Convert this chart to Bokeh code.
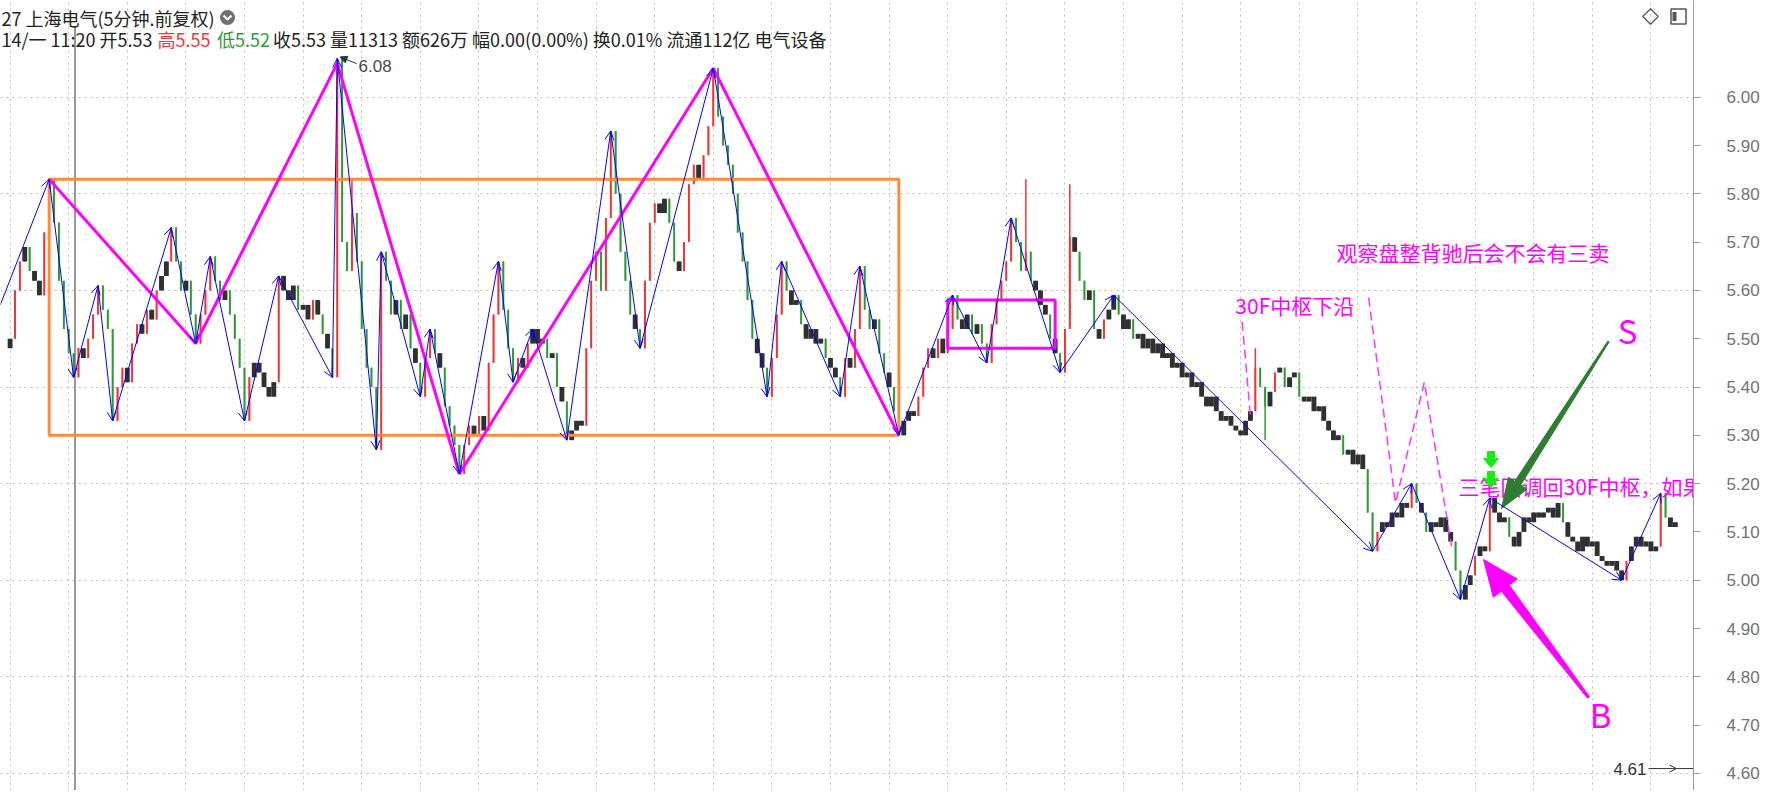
import math
from bokeh.plotting import figure
from bokeh.models import (ColumnDataSource, Arrow, OpenHead, NormalHead, FixedTicker,
                          Grid, Range1d, NumeralTickFormatter)
from bokeh.core.properties import value
from bokeh.embed import file_html
from bokeh.resources import INLINE

# ---------------- data (5-minute bars) ----------------
open0 = 5.48
closes = [
    5.50, 5.60, 5.66, 5.69, 5.64, 5.62, 5.59, 5.72, 5.83,           # 0-8
    5.74, 5.62, 5.52, 5.47, 5.42,                                   # 9-13
    5.48, 5.46, 5.50, 5.55, 5.61,                                   # 14-18
    5.56, 5.52, 5.33,                                               # 19-21
    5.40, 5.44, 5.41, 5.49, 5.53, 5.51, 5.56, 5.54, 5.60, 5.63, 5.66, 5.73,  # 22-33
    5.66, 5.60, 5.62, 5.55, 5.49,                                   # 34-38
    5.55, 5.60, 5.67,                                               # 39-41
    5.62, 5.58, 5.60, 5.55, 5.50, 5.44, 5.33,                       # 42-48
    5.42, 5.45, 5.43, 5.40, 5.38, 5.41, 5.63,                       # 49-55
    5.60, 5.58, 5.61, 5.56, 5.57, 5.54, 5.58, 5.55, 5.51, 5.48, 5.42,  # 56-66
    6.08,                                                           # 67
    5.70, 5.64, 5.76, 5.66, 5.52, 5.44, 5.40, 5.27,                 # 68-75
    5.68,                                                           # 76
    5.62, 5.55, 5.58, 5.52, 5.55, 5.48, 5.45, 5.38,                 # 77-84
    5.46, 5.52,                                                     # 85-86
    5.47, 5.44, 5.36, 5.32, 5.28, 5.22,                             # 87-92
    5.28, 5.32, 5.30, 5.34, 5.31, 5.45, 5.55, 5.66,                 # 93-100
    5.56, 5.48, 5.41,                                               # 101-103
    5.46, 5.44, 5.49, 5.52,                                         # 104-107
    5.49, 5.50, 5.46, 5.47, 5.40, 5.37, 5.29,                       # 108-114
    5.31, 5.33, 5.32, 5.48, 5.62, 5.68, 5.60, 5.75, 5.93,           # 115-123
    5.80, 5.68, 5.62, 5.55, 5.52, 5.48,                             # 124-129
    5.62, 5.74, 5.78, 5.76, 5.79, 5.74, 5.66, 5.64, 5.70, 5.82, 5.86, 5.83, 5.88, 5.94, 6.06,  # 130-144
    5.96, 5.90, 5.86, 5.80, 5.72, 5.66, 5.58, 5.50, 5.47, 5.44, 5.38,  # 145-155
    5.46, 5.55, 5.66,                                               # 156-158
    5.60, 5.57, 5.58, 5.53, 5.50, 5.52, 5.49, 5.50, 5.46, 5.44, 5.42, 5.38,  # 159-170
    5.46, 5.44, 5.52, 5.65,                                         # 171-174
    5.56, 5.52, 5.54, 5.47, 5.43, 5.40, 5.35, 5.30,                 # 175-182
    5.33, 5.35, 5.34, 5.38, 5.44, 5.48, 5.46, 5.50, 5.47, 5.52, 5.59,  # 183-193
    5.54, 5.52, 5.55, 5.51, 5.53, 5.49, 5.45,                       # 194-200
    5.53, 5.58, 5.62, 5.66, 5.75,                                   # 201-205
    5.70, 5.64, 5.68, 5.62, 5.60, 5.57, 5.55, 5.50, 5.47, 5.43,     # 206-215
    5.52, 5.71, 5.68, 5.62, 5.58, 5.60, 5.52, 5.50, 5.54, 5.56, 5.59,  # 216-226
    5.55, 5.52, 5.54, 5.50, 5.51, 5.48, 5.50, 5.47, 5.49,           # 227-235
    5.46, 5.47, 5.44, 5.45, 5.42, 5.43, 5.40, 5.41, 5.38,           # 236-244
    5.36, 5.38, 5.35, 5.33, 5.34, 5.32, 5.31, 5.30, 5.33,           # 245-253
    5.35, 5.44, 5.40, 5.36, 5.39, 5.43, 5.44, 5.40, 5.42,           # 254-262
    5.43, 5.38, 5.37, 5.38, 5.35, 5.36, 5.33, 5.31, 5.29,           # 263-271
    5.30, 5.26, 5.27, 5.24, 5.26, 5.23, 5.14, 5.06,                 # 272-279
    5.10, 5.12, 5.11, 5.14, 5.13, 5.16, 5.15, 5.20,                 # 280-287
    5.16, 5.14, 5.10, 5.12, 5.11, 5.13, 5.10, 5.08, 5.02, 4.96,     # 288-297
    4.99, 5.01, 5.05, 5.07, 5.06, 5.17,                             # 298-303
    5.14, 5.12, 5.13, 5.09, 5.07, 5.10, 5.13, 5.12, 5.14,           # 304-312
    5.13, 5.14, 5.15, 5.13, 5.16, 5.12, 5.09, 5.08, 5.06,           # 313-321
    5.09, 5.07, 5.08, 5.05, 5.04, 5.03, 5.04, 5.02, 5.00,           # 322-330
    5.04, 5.07, 5.09, 5.07, 5.08, 5.06, 5.07, 5.18,                 # 331-338
    5.13, 5.11, 5.12,                                               # 339-341
]
wick_hi_idx = [70, 208, 217, 255]
wick_hi_val = [5.83, 5.83, 5.82, 5.48]
wick_lo_idx = [257]
wick_lo_val = [5.29]

# 笔 (blue pens) vertices: bar index, price
bi_idx = [-2, 8, 13, 18, 21, 33, 38, 41, 48, 55, 66, 67, 75, 76, 84, 86, 92, 100, 103, 107,
          114, 123, 129, 144, 155, 158, 170, 174, 182, 193, 200, 205, 215, 226, 279, 287,
          297, 303, 330, 338]
bi_price = [5.57, 5.83, 5.42, 5.61, 5.33, 5.73, 5.49, 5.67, 5.33, 5.63, 5.42, 6.08, 5.27, 5.68,
            5.38, 5.52, 5.22, 5.66, 5.41, 5.52, 5.29, 5.93, 5.48, 6.06, 5.38, 5.66, 5.38, 5.65,
            5.30, 5.59, 5.45, 5.75, 5.43, 5.59, 5.06, 5.20, 4.96, 5.17, 5.00, 5.18]

# 线段 (magenta segments)
seg_idx = [8, 38, 67, 92, 144, 182]
seg_price = [5.83, 5.49, 6.07, 5.22, 6.06, 5.30]

# 中枢 boxes
zs_left = [8]
zs_right = [182]
zs_low = [5.30]
zs_high = [5.83]
zs2_left = [192]
zs2_right = [214]
zs2_low = [5.48]
zs2_high = [5.58]

# hand-drawn dashed projections
dash_a_idx = [252.3, 254.0]
dash_a_price = [5.535, 5.34]
dash_b_idx = [278.2, 283.7, 289.6, 295.2]
dash_b_price = [5.585, 5.16, 5.41, 5.07]

# notes
note_idx = [250.9, 271.6, 296.6]
note_price = [5.569, 5.68, 5.194]
note_text = ["30F中枢下沿", "观察盘整背驰后会不会有三卖", "三笔回调回30F中枢，如果"]
letter_idx = [331.2, 325.7]
letter_price = [5.517, 4.724]
letter_text = ["S", "B"]

y_ticks = [4.60, 4.70, 4.80, 4.90, 5.00, 5.10, 5.20, 5.30, 5.40, 5.50,
           5.60, 5.70, 5.80, 5.90, 6.00]
y_tick_labels = ["4.60", "4.70", "4.80", "4.90", "5.00", "5.10", "5.20", "5.30", "5.40",
                 "5.50", "5.60", "5.70", "5.80", "5.90", "6.00"]
grid_prices = [4.60, 4.80, 5.00, 5.20, 5.40, 5.60, 5.80, 6.00]
grid_bars = list(range(0, 342, 12))

peak_label = "6.08"
low_label = "4.61"
low_price = 4.61

header_1 = "27 上海电气(5分钟.前复权)"
header_2 = ["14/一 11:20 开5.53", "高5.55", "低5.52",
            "收5.53 量11313 额626万 幅0.00(0.00%) 换0.01% 流通112亿 电气设备"]

# ---------------- geometry (page pixels -> data) ----------------
DXP = 58.6 / 12.0
FRAME_W, FRAME_H = 1693, 790
X0 = -9.6 / DXP
X1 = X0 + FRAME_W / DXP
DYP = 483.0
Y1 = 6.0 + 96.7 / DYP
Y0 = Y1 - FRAME_H / DYP


def X(px):
    return X0 + px / DXP


def Y(py):
    return Y1 - py / DYP


p = figure(width=1762, height=790, x_range=Range1d(X0, X1), y_range=Range1d(Y0, Y1),
           x_axis_location=None, y_axis_location="right", toolbar_location=None,
           output_backend="svg", min_border_left=0, min_border_top=0, min_border_bottom=0,
           min_border_right=69, outline_line_color=None,
           background_fill_color="#ffffff", border_fill_color="#ffffff")
p.grid.visible = False
p.add_layout(Grid(dimension=1, ticker=FixedTicker(ticks=grid_prices),
                  grid_line_color="#bdbdbd", grid_line_dash="2 4", grid_line_width=1))
p.add_layout(Grid(dimension=0, ticker=FixedTicker(ticks=grid_bars),
                  grid_line_color="#bdbdbd", grid_line_dash="2 4", grid_line_width=1))

ax = p.yaxis[0]
ax.ticker = FixedTicker(ticks=y_ticks)
ax.formatter = NumeralTickFormatter(format="0.00")
ax.major_label_overrides = {t: l for t, l in zip(y_ticks, y_tick_labels)}
ax.axis_line_color = "#9a9a9a"
ax.major_tick_line_color = "#9a9a9a"
ax.major_tick_in = 0
ax.major_tick_out = 7
ax.minor_tick_line_color = None
ax.major_label_text_color = "#727272"
ax.major_label_text_font = "Liberation Sans"
ax.major_label_text_font_size = "17px"
ax.major_label_standoff = 26

# ---------------- candles ----------------
n = len(closes)
idx = list(range(n))
opens = [open0] + closes[:-1]
highs = [max(o, c) for o, c in zip(opens, closes)]
lows = [min(o, c) for o, c in zip(opens, closes)]
for i, v in zip(wick_hi_idx, wick_hi_val):
    highs[i] = max(highs[i], v)
for i, v in zip(wick_lo_idx, wick_lo_val):
    lows[i] = min(lows[i], v)

UP, DN, DK = "#ef3434", "#2f9a35", "#303030"
wick_col, body_col, body_w, tops, bots = [], [], [], [], []
for o, c in zip(opens, closes):
    d = c - o
    wick_col.append(UP if d > 1e-9 else (DN if d < -1e-9 else DK))
    if abs(d) <= 0.035:
        body_col.append(DK)
        body_w.append(1.0)
    else:
        body_col.append(UP if d > 0 else DN)
        body_w.append(0.38)
    t, b = max(o, c), min(o, c)
    if t - b < 0.006:
        t, b = t + 0.003, b - 0.003
    tops.append(t)
    bots.append(b)

csrc = ColumnDataSource(dict(x=idx, hi=highs, lo=lows, top=tops, bot=bots,
                             wc=wick_col, bc=body_col, bw=body_w))
p.segment(x0="x", y0="lo", x1="x", y1="hi", line_color="wc", line_width=1.5, source=csrc)
p.vbar(x="x", width="bw", top="top", bottom="bot", fill_color="bc", line_color=None,
       source=csrc)

# cursor line
p.segment(x0=[X(74.5)], y0=[Y(26)], x1=[X(74.5)], y1=[Y0], line_color="#333333", line_width=1)

# ---------------- zhongshu boxes & segments ----------------
p.quad(left=zs_left, right=zs_right, bottom=zs_low, top=zs_high, fill_color=None,
       line_color="#ff8a3d", line_width=3)
p.quad(left=zs2_left, right=zs2_right, bottom=zs2_low, top=zs2_high, fill_color=None,
       line_color="#ff00ff", line_width=3)
p.line(seg_idx, seg_price, line_color="#ff00ff", line_width=3)

p.line(dash_a_idx, dash_a_price, line_color="#ff33ff", line_width=1.5, line_dash="9 5")
p.line(dash_b_idx, dash_b_price, line_color="#ff33ff", line_width=1.5, line_dash="9 5")

# ---------------- notes ----------------
CJK = value("Noto Sans CJK SC")
p.text(x=note_idx, y=note_price, text=note_text, text_font=CJK, text_font_size="21px",
       text_color="#ff00ff", text_baseline="middle", text_align="left")
p.text(x=letter_idx, y=letter_price, text=letter_text, text_font=CJK, text_font_size="33px",
       text_color="#ff00ff", text_baseline="middle", text_align="center")


def arrow_poly(tx, ty, hx, hy, w0, w1, L, W):
    dx, dy = hx - tx, hy - ty
    d = math.hypot(dx, dy)
    ux, uy = dx / d, dy / d
    nx, ny = -uy, ux
    bx, by = hx - ux * L, hy - uy * L
    pts = [(tx + nx * w0 / 2, ty + ny * w0 / 2), (bx + nx * w1 / 2, by + ny * w1 / 2),
           (bx + nx * W / 2, by + ny * W / 2), (hx, hy),
           (bx - nx * W / 2, by - ny * W / 2), (bx - nx * w1 / 2, by - ny * w1 / 2),
           (tx - nx * w0 / 2, ty - ny * w0 / 2)]
    return [X(a) for a, _ in pts], [Y(b) for _, b in pts]


gx, gy = arrow_poly(1608, 341, 1501, 508, 1.5, 7, 30, 22)
p.patch(gx, gy, fill_color="#2e7d32", line_color="#2e7d32", line_width=1)
mx, my = arrow_poly(1588, 697, 1483, 559, 2.5, 10, 36, 30)
p.patch(mx, my, fill_color="#ff00ff", line_color="#ff00ff", line_width=1)

for y0 in (451, 471):
    pts = [(1487, y0), (1494, y0), (1494, y0 + 7), (1498, y0 + 7), (1490.5, y0 + 16),
           (1483, y0 + 7), (1487, y0 + 7)]
    p.patch([X(a) for a, _ in pts], [Y(b) for _, b in pts], fill_color="#11ee11",
            line_color="#11ee11", line_width=1)

# ---------------- blue pens ----------------
bsrc = ColumnDataSource(dict(x0=bi_idx[:-1], y0=bi_price[:-1], x1=bi_idx[1:], y1=bi_price[1:]))
p.add_layout(Arrow(end=OpenHead(size=9, line_color="#0000ff", line_width=1),
                   x_start="x0", y_start="y0", x_end="x1", y_end="y1", source=bsrc,
                   line_color="#0000ff", line_width=1))

# ---------------- price markers ----------------
p.add_layout(Arrow(end=NormalHead(size=7, fill_color="#333333", line_color="#333333"),
                   x_start=X(356), y_start=Y(63), x_end=X(339.5), y_end=Y(56.5),
                   line_color="#333333", line_width=1))
p.text(x=[X(358)], y=[Y(65)], text=[peak_label], text_font=value("Liberation Sans"),
       text_font_size="17px", text_color="#4a4a4a", text_baseline="middle", text_align="left")

p.text(x=[X(1646)], y=[low_price], text=[low_label], text_font=value("Liberation Sans"),
       text_font_size="17px", text_color="#333333", text_baseline="middle", text_align="right")
p.add_layout(Arrow(end=OpenHead(size=7, line_color="#333333", line_width=1),
                   x_start=X(1648), y_start=low_price, x_end=X(1676), y_end=low_price,
                   line_color="#333333", line_width=1))
p.segment(x0=[X(1676)], y0=[low_price], x1=[X(1693)], y1=[low_price],
          line_color="#333333", line_width=1)

# ---------------- header ----------------
p.text(x=[X(1)], y=[Y(17)], text=[header_1], text_font=CJK, text_font_size="18px",
       text_color="#222222", text_baseline="middle", text_align="left")
p.scatter(x=[X(227)], y=[Y(17)], size=15, marker="circle", fill_color="#707070",
          line_color=None)
p.line(x=[X(223), X(227), X(231)], y=[Y(15), Y(19), Y(15)], line_color="#ffffff",
       line_width=2)
h2_x = [1, 157, 216.5, 272.6]
h2_col = ["#222222", "#ef3434", "#2f9a35", "#222222"]
p.text(x=[X(v) for v in h2_x], y=[Y(38)] * 4, text=header_2, text_font=CJK,
       text_font_size="18px", text_color=h2_col, text_baseline="middle", text_align="left")

# top right icons
p.scatter(x=[X(1650)], y=[Y(16)], marker="square", angle=math.pi / 4, size=11,
          fill_color=None, line_color="#555555", line_width=1.2)
p.rect(x=[X(1678)], y=[Y(16)], width=15, height=15, width_units="screen",
       height_units="screen", fill_color=None, line_color="#555555", line_width=1.5)
p.rect(x=[X(1674)], y=[Y(16)], width=4, height=9, width_units="screen",
       height_units="screen", fill_color="#555555", line_color=None)

open("out.html", "w").write(file_html(p, INLINE))
